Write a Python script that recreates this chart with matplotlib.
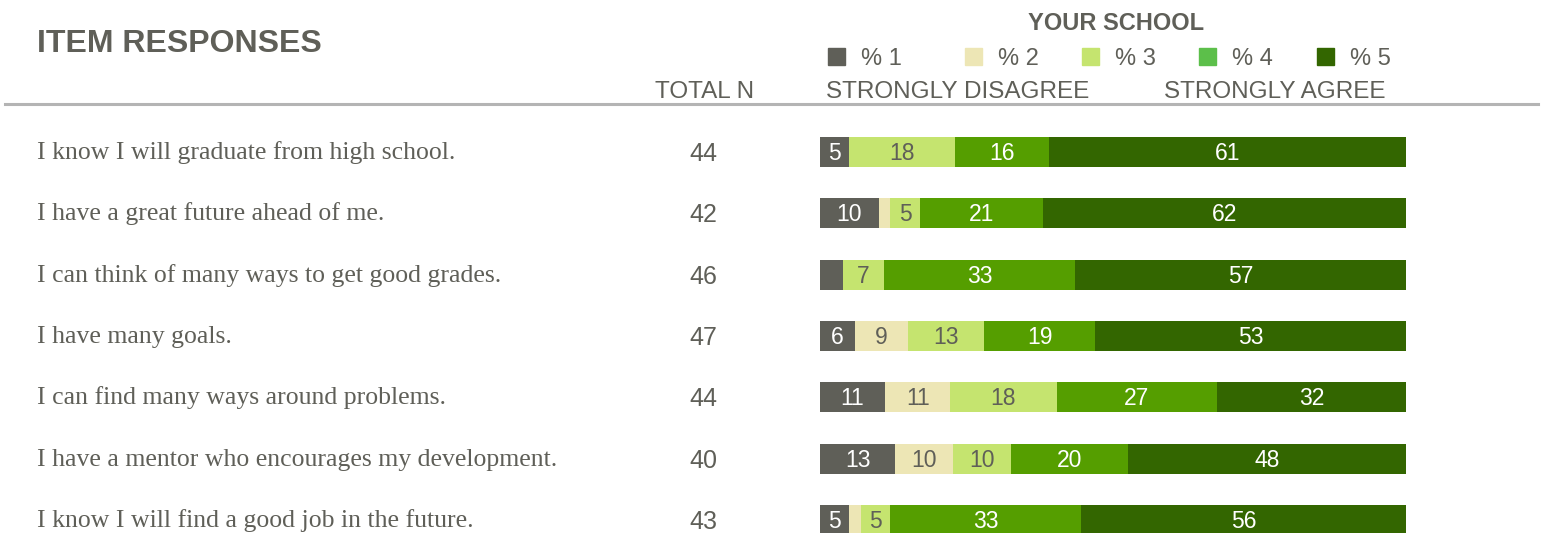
import matplotlib

matplotlib.use("Agg", force=True)

import matplotlib.pyplot as plt
from matplotlib import transforms
from matplotlib.patches import Rectangle

items = [
    "I know I will graduate from high school.",
    "I have a great future ahead of me.",
    "I can think of many ways to get good grades.",
    "I have many goals.",
    "I can find many ways around problems.",
    "I have a mentor who encourages my development.",
    "I know I will find a good job in the future.",
]
total_n = [44, 42, 46, 47, 44, 40, 43]
pct_1 = [5, 10, 4, 6, 11, 13, 5]
pct_2 = [0, 2, 0, 9, 11, 10, 2]
pct_3 = [18, 5, 7, 13, 18, 10, 5]
pct_4 = [16, 21, 33, 19, 27, 20, 33]
pct_5 = [61, 62, 57, 53, 32, 48, 56]
series_names = ["% 1", "% 2", "% 3", "% 4", "% 5"]

bar_colors = ["#5f5f58", "#ede6b5", "#c5e46f", "#559e00", "#336600"]
legend_colors = ["#5f5f58", "#ede6b5", "#c5e46f", "#5cbf4a", "#336600"]
label_colors = ["white", "#5f5f58", "#5f5f58", "white", "white"]
legend_x = [828, 965, 1082, 1199, 1317]
gray = "#5f5f58"
sans = "Liberation Sans"

W, H = 1543, 533
fig = plt.figure(figsize=(W / 100, H / 100), dpi=100)


def fx(px):
    return px / W


def fy(py):
    return 1 - py / H


# bar axes: x 820..1406 px, rows centred from y=152 px, 61.33 px apart
row_step = 61.33
top_px = 152 - row_step / 2
bot_px = top_px + row_step * len(items)
ax = fig.add_axes([fx(820), fy(bot_px), fx(1406) - fx(820), (bot_px - top_px) / H])
ax.set_xlim(0, 100)
ax.set_ylim(len(items) - 0.5, -0.5)
ax.axis("off")

bar_text = transforms.offset_copy(ax.transData, fig=fig, y=-8, units="dots")
series = [pct_1, pct_2, pct_3, pct_4, pct_5]
for i in range(len(items)):
    row = [s[i] for s in series]
    tot = sum(row)
    left = 0.0
    for k, v in enumerate(row):
        w = v / tot * 100
        ax.barh(i, w, left=left, height=0.49, color=bar_colors[k], linewidth=0)
        if v >= 5:
            ax.text(left + w / 2, i, str(v), transform=bar_text, ha="center",
                    va="baseline", fontsize=16.5, color=label_colors[k], family=sans)
        left += w

# row labels and totals
blend = transforms.blended_transform_factory(fig.transFigure, ax.transData)
label_tr = transforms.offset_copy(blend, fig=fig, y=-7, units="dots")
n_tr = transforms.offset_copy(blend, fig=fig, y=-9, units="dots")
for i, (label, n) in enumerate(zip(items, total_n)):
    ax.text(fx(37), i, label, transform=label_tr, ha="left", va="baseline",
            fontsize=18.5, color=gray, family="Liberation Serif", clip_on=False)
    ax.text(fx(703), i, str(n), transform=n_tr, ha="center", va="baseline",
            fontsize=18, color=gray, family=sans, clip_on=False)

# header
fig.text(fx(37), fy(52), "ITEM RESPONSES", ha="left", va="baseline", fontsize=23,
         fontweight="bold", color=gray, family=sans)
fig.text(fx(1116), fy(30), "YOUR SCHOOL", ha="center", va="baseline", fontsize=17,
         fontweight="bold", color=gray, family=sans)
fig.text(fx(655), fy(98), "TOTAL N", ha="left", va="baseline", fontsize=17.5,
         color=gray, family=sans)
fig.text(fx(826), fy(98), "STRONGLY DISAGREE", ha="left", va="baseline", fontsize=17.5,
         color=gray, family=sans)
fig.text(fx(1386), fy(98), "STRONGLY AGREE", ha="right", va="baseline", fontsize=17.5,
         color=gray, family=sans)

for k, name in enumerate(series_names):
    x0 = legend_x[k]
    fig.patches.append(Rectangle((fx(x0), fy(65)), fx(17), 17 / H, color=legend_colors[k],
                                 transform=fig.transFigure, figure=fig))
    fig.text(fx(x0 + 33), fy(65), name, ha="left", va="baseline", fontsize=17,
             color=gray, family=sans)

# separator line
fig.add_artist(plt.Line2D([fx(5), fx(1538)], [fy(104), fy(104)], color="#b4b4b4",
                          linewidth=2.2, transform=fig.transFigure))

fig.savefig("out.png", dpi=100)
plt.close(fig)
